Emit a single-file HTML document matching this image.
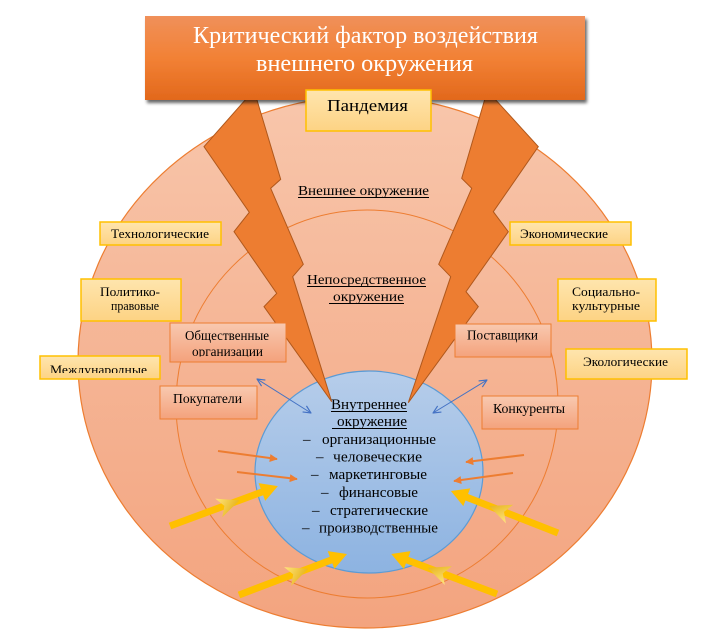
<!DOCTYPE html>
<html><head><meta charset="utf-8"><style>
html,body{margin:0;padding:0;background:#fff;}
svg{display:block;}
text{font-family:"Liberation Serif","Noto Serif CJK SC",serif;}
</style></head><body>
<svg width="717" height="639" viewBox="0 0 717 639" xmlns="http://www.w3.org/2000/svg">
<defs>
 <linearGradient id="ring" gradientUnits="userSpaceOnUse" x1="0" y1="96" x2="0" y2="628">
  <stop offset="0" stop-color="#f8c6ab"/>
  <stop offset="0.5" stop-color="#f5b494"/>
  <stop offset="1" stop-color="#f3a47f"/>
 </linearGradient>
 <linearGradient id="blue" x1="0" y1="0" x2="0" y2="1">
  <stop offset="0" stop-color="#b6cdea"/>
  <stop offset="1" stop-color="#8db3e1"/>
 </linearGradient>
 <linearGradient id="title" x1="0" y1="0" x2="0" y2="1">
  <stop offset="0" stop-color="#f0905a"/>
  <stop offset="0.5" stop-color="#f28135"/>
  <stop offset="1" stop-color="#e2681c"/>
 </linearGradient>
 <linearGradient id="yb" x1="0" y1="0" x2="0" y2="1">
  <stop offset="0" stop-color="#fee5ae"/>
  <stop offset="1" stop-color="#fdd384"/>
 </linearGradient>
 <linearGradient id="ob" x1="0" y1="0" x2="0" y2="1">
  <stop offset="0" stop-color="#f8c9b0"/>
  <stop offset="1" stop-color="#f4a27c"/>
 </linearGradient>
 <linearGradient id="deco" x1="0" y1="0" x2="1" y2="1">
  <stop offset="0" stop-color="#ffe680"/>
  <stop offset="1" stop-color="#e0a600"/>
 </linearGradient>
 <filter id="sh" x="-5%" y="-10%" width="115%" height="130%">
  <feGaussianBlur in="SourceAlpha" stdDeviation="1.6"/>
  <feOffset dx="2" dy="3" result="b"/>
  <feComponentTransfer><feFuncA type="linear" slope="0.6"/></feComponentTransfer>
  <feMerge><feMergeNode/><feMergeNode in="SourceGraphic"/></feMerge>
 </filter>
 <marker id="oa" viewBox="0 0 10 10" refX="9" refY="5" markerWidth="10" markerHeight="8" markerUnits="userSpaceOnUse" orient="auto">
  <path d="M0,0 L10,5 L0,10 z" fill="#ed7d31"/>
 </marker>
 <marker id="ba" viewBox="0 0 10 10" refX="9.5" refY="5" markerWidth="9" markerHeight="9" markerUnits="userSpaceOnUse" orient="auto-start-reverse">
  <path d="M1,1 L9.5,5 L1,9" fill="none" stroke="#4472c4" stroke-width="1.3"/>
 </marker>
 <clipPath id="c1"><rect x="0" y="0" width="717" height="373"/></clipPath>
 <clipPath id="c2"><rect x="0" y="0" width="717" height="356.5"/></clipPath>
</defs>

<!-- rings -->
<ellipse cx="365" cy="362" rx="287" ry="266" fill="url(#ring)" stroke="#ed7d31" stroke-width="1.2"/>
<ellipse cx="367" cy="404" rx="191" ry="194" fill="url(#ring)" stroke="#ed7d31" stroke-width="1"/>
<ellipse cx="369" cy="472" rx="114" ry="101" fill="url(#blue)" stroke="#5b9bd5" stroke-width="1.2"/>

<!-- ring labels -->
<text x="298" y="195" font-size="14" textLength="131" lengthAdjust="spacingAndGlyphs">Внешнее окружение</text>
<line x1="298" y1="197.5" x2="429" y2="197.5" stroke="#000" stroke-width="1"/>
<text x="307" y="284" font-size="14" textLength="119" lengthAdjust="spacingAndGlyphs">Непосредственное</text>
<line x1="307" y1="286.5" x2="426" y2="286.5" stroke="#000" stroke-width="1"/>
<text x="333" y="301" font-size="14" textLength="71" lengthAdjust="spacingAndGlyphs">окружение</text>
<line x1="329" y1="303.5" x2="404" y2="303.5" stroke="#000" stroke-width="1"/>

<!-- bolts -->
<polygon points="254,90 280.7,179.3 270.7,188.3 303.3,264.3 292.7,276.7 331.7,401.7 264,306.7 276.7,293.3 234,231.7 249.3,212.3 204,146.7" fill="#ed7d31" stroke="#b0581c" stroke-width="1"/>
<polygon points="487.3,90.7 461.7,178.3 471.7,188.3 438.7,264.3 450.7,276.7 408.3,402.7 478.3,306.7 466,291.7 508.3,231.7 493.3,211.7 538.3,146.7" fill="#ed7d31" stroke="#b0581c" stroke-width="1"/>

<!-- title -->
<rect x="145" y="16" width="440" height="84" fill="url(#title)" filter="url(#sh)"/>
<text x="365.5" y="43" font-size="24" fill="#fff" text-anchor="middle" textLength="345" lengthAdjust="spacingAndGlyphs">Критический фактор воздействия</text>
<text x="364.5" y="71" font-size="24" fill="#fff" text-anchor="middle" textLength="217" lengthAdjust="spacingAndGlyphs">внешнего окружения</text>

<!-- Пандемия -->
<rect x="306" y="90" width="125" height="41" fill="url(#yb)" stroke="#ffc000" stroke-width="1.5"/>
<text x="327" y="111" font-size="17" textLength="81" lengthAdjust="spacingAndGlyphs">Пандемия</text>

<!-- yellow factor boxes -->
<rect x="100" y="222" width="121" height="23" fill="url(#yb)" stroke="#ffc000" stroke-width="1.5"/>
<text x="111" y="238" font-size="13" textLength="98" lengthAdjust="spacingAndGlyphs">Технологические</text>

<rect x="81" y="279" width="100" height="42" fill="url(#yb)" stroke="#ffc000" stroke-width="1.5"/>
<text x="100" y="296" font-size="13" textLength="60" lengthAdjust="spacingAndGlyphs">Политико-</text>
<text x="111" y="310" font-size="13" textLength="48" lengthAdjust="spacingAndGlyphs">правовые</text>

<rect x="40" y="356" width="120" height="23" fill="url(#yb)" stroke="#ffc000" stroke-width="1.5"/>
<text x="50" y="374" font-size="13" textLength="97" lengthAdjust="spacingAndGlyphs" clip-path="url(#c1)">Международные</text>

<rect x="510" y="222" width="121" height="23" fill="url(#yb)" stroke="#ffc000" stroke-width="1.5"/>
<text x="520" y="238" font-size="13" textLength="88" lengthAdjust="spacingAndGlyphs">Экономические</text>

<rect x="558" y="279" width="98" height="42" fill="url(#yb)" stroke="#ffc000" stroke-width="1.5"/>
<text x="572" y="296" font-size="13" textLength="68" lengthAdjust="spacingAndGlyphs">Социально-</text>
<text x="572" y="310" font-size="13" textLength="68" lengthAdjust="spacingAndGlyphs">культурные</text>

<rect x="566" y="349" width="121" height="30" fill="url(#yb)" stroke="#ffc000" stroke-width="1.5"/>
<text x="583" y="366" font-size="13" textLength="85" lengthAdjust="spacingAndGlyphs">Экологические</text>

<!-- orange boxes -->
<rect x="170" y="323" width="116" height="39" fill="url(#ob)" stroke="#ed7d31" stroke-width="1"/>
<text x="185" y="340" font-size="13.5" textLength="84" lengthAdjust="spacingAndGlyphs">Общественные</text>
<text x="192" y="356" font-size="13.5" textLength="71" lengthAdjust="spacingAndGlyphs" clip-path="url(#c2)">организации</text>

<rect x="160" y="386" width="97" height="33" fill="url(#ob)" stroke="#ed7d31" stroke-width="1"/>
<text x="173" y="403" font-size="13.5" textLength="69" lengthAdjust="spacingAndGlyphs">Покупатели</text>

<rect x="455" y="324" width="96" height="33" fill="url(#ob)" stroke="#ed7d31" stroke-width="1"/>
<text x="467" y="339.5" font-size="13.5" textLength="71" lengthAdjust="spacingAndGlyphs">Поставщики</text>

<rect x="482" y="396" width="96" height="33" fill="url(#ob)" stroke="#ed7d31" stroke-width="1"/>
<text x="493" y="413" font-size="13.5" textLength="72" lengthAdjust="spacingAndGlyphs">Конкуренты</text>

<!-- blue double arrows -->
<line x1="257" y1="379" x2="311" y2="413" stroke="#4472c4" stroke-width="1" marker-start="url(#ba)" marker-end="url(#ba)"/>
<line x1="487" y1="380" x2="433" y2="413" stroke="#4472c4" stroke-width="1" marker-start="url(#ba)" marker-end="url(#ba)"/>

<!-- orange thin arrows -->
<line x1="218" y1="451" x2="277" y2="459" stroke="#ed7d31" stroke-width="2" marker-end="url(#oa)"/>
<line x1="237" y1="472" x2="297" y2="479" stroke="#ed7d31" stroke-width="2" marker-end="url(#oa)"/>
<line x1="524" y1="455" x2="466" y2="462" stroke="#ed7d31" stroke-width="2" marker-end="url(#oa)"/>
<line x1="513" y1="473" x2="454" y2="481" stroke="#ed7d31" stroke-width="2" marker-end="url(#oa)"/>

<!-- yellow thick arrows -->
<g transform="translate(170,526) rotate(-20.3)">
 <rect x="0" y="-3.5" width="100" height="7" fill="#ffc000"/>
 <polygon points="98,-9.5 115,0 98,9.5" fill="#ffc000"/>
 <polygon points="52,-10 74,0 52,10 58,0" fill="url(#deco)"/>
</g>
<g transform="translate(239,595) rotate(-20.8)">
 <rect x="0" y="-3.5" width="100" height="7" fill="#ffc000"/>
 <polygon points="98.5,-9.5 115.5,0 98.5,9.5" fill="#ffc000"/>
 <polygon points="52,-10 74,0 52,10 58,0" fill="url(#deco)"/>
</g>
<g transform="translate(558,533) rotate(-158.6)">
 <rect x="0" y="-3.5" width="100" height="7" fill="#ffc000"/>
 <polygon points="98,-9.5 115,0 98,9.5" fill="#ffc000"/>
 <polygon points="52,-10 74,0 52,10 58,0" fill="url(#deco)"/>
</g>
<g transform="translate(497,594) rotate(-159.3)">
 <rect x="0" y="-3.5" width="98" height="7" fill="#ffc000"/>
 <polygon points="96,-9.5 113,0 96,9.5" fill="#ffc000"/>
 <polygon points="52,-10 74,0 52,10 58,0" fill="url(#deco)"/>
</g>

<!-- inner text -->
<text x="331" y="409" font-size="15" textLength="76" lengthAdjust="spacingAndGlyphs">Внутреннее</text>
<line x1="331" y1="411.5" x2="407" y2="411.5" stroke="#000" stroke-width="1"/>
<text x="337" y="426" font-size="15" textLength="70" lengthAdjust="spacingAndGlyphs">окружение</text>
<line x1="332" y1="428.5" x2="407" y2="428.5" stroke="#000" stroke-width="1"/>

<text x="303" y="444" font-size="15">–</text>
<text x="322" y="444" font-size="15" textLength="114" lengthAdjust="spacingAndGlyphs">организационные</text>
<text x="316" y="461.7" font-size="15">–</text>
<text x="333" y="461.7" font-size="15" textLength="89" lengthAdjust="spacingAndGlyphs">человеческие</text>
<text x="311" y="479" font-size="15">–</text>
<text x="329" y="479" font-size="15" textLength="98" lengthAdjust="spacingAndGlyphs">маркетинговые</text>
<text x="321" y="497" font-size="15">–</text>
<text x="339" y="497" font-size="15" textLength="79" lengthAdjust="spacingAndGlyphs">финансовые</text>
<text x="312" y="515" font-size="15">–</text>
<text x="330" y="515" font-size="15" textLength="98" lengthAdjust="spacingAndGlyphs">стратегические</text>
<text x="302" y="532.7" font-size="15">–</text>
<text x="319" y="532.7" font-size="15" textLength="119" lengthAdjust="spacingAndGlyphs">производственные</text>
</svg>
</body></html>
